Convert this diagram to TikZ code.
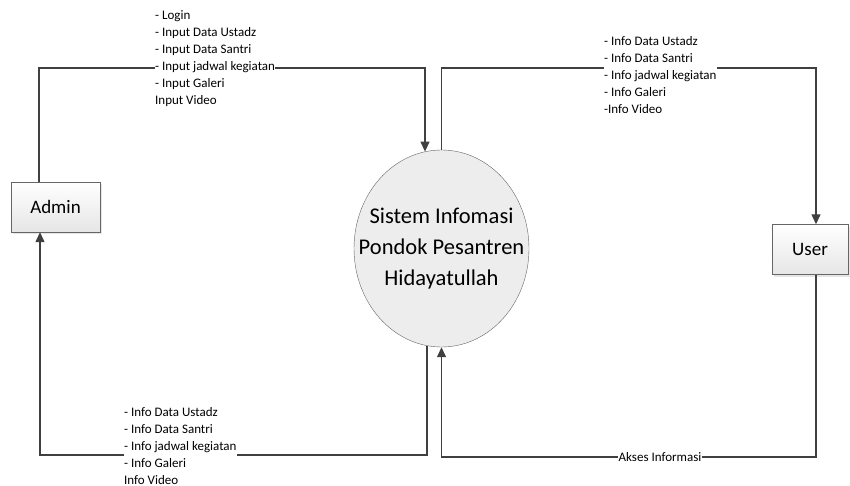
\documentclass[tikz,border=0pt]{standalone}
\usepackage{fontspec}
\setmainfont{Carlito}
\usetikzlibrary{shapes.geometric, arrows.meta, positioning, shadows}
\definecolor{lineGray}{RGB}{64,64,64}
\definecolor{boxGray}{RGB}{230,230,230}

\begin{document}
\begin{tikzpicture}[
    x=1pt, y=-1pt,
    entity/.style={rectangle, draw=lineGray!80, top color=white, bottom color=boxGray, minimum width=89pt, minimum height=50pt, font=\fontsize{19}{23}\selectfont, drop shadow={shadow xshift=2pt, shadow yshift=-2pt, fill=black!20}},
    process/.style={ellipse, draw=lineGray!80, fill=boxGray!70, minimum width=175pt, minimum height=197pt, inner sep=0pt},
    flow/.style={-{Triangle[length=10pt, width=9pt]}, line width=1.3pt, draw=lineGray},
    note/.style={fill=white, inner sep=0pt, align=left, font=\fontsize{13}{17}\selectfont}
]
\useasboundingbox (0,0) rectangle (850,486);

% External entities
\node[entity] (admin) at (55.5,207) {Admin};
\node[entity, minimum width=76pt] (user) at (810,249.5) {User};

% Process
\node[process, label={[align=center, font=\fontsize{22.5}{31}\selectfont]center:{Sistem Infomasi\\Pondok Pesantren\\Hidayatullah}}] (sis) at (441.5,248.5) {};

% Bend points
\coordinate (adminUp) at (39,68);
\coordinate (userUp) at (816,68);
\coordinate (adminDown) at (40,455);
\coordinate (userDown) at (816,457);

% Flows
\draw[flow] (admin.north -| adminUp) -- (adminUp) -| ([xshift=-16.5pt, yshift=-1.8pt]sis.north);
\draw[flow] (sis.north) |- (userUp) -- (user.north -| userUp);
\draw[flow] ([xshift=-14.5pt, yshift=1.4pt]sis.south) |- (adminDown) -- (admin.south -| adminDown);
\draw[flow] (user.south -| userDown) -- (userDown) -| (sis.south);

% Labels
\node[note, anchor=north west] (inAdmin) at (155,10.5) {- Login\\- Input Data Ustadz\\- Input Data Santri\\- Input jadwal kegiatan\\- Input Galeri\\Input Video};
\node[note, anchor=north west] (outUser) at (604,36) {- Info Data Ustadz\\- Info Data Santri\\- Info jadwal kegiatan\\- Info Galeri\\-Info Video};
\node[note, anchor=north west] (outAdmin) at (124,407) {- Info Data Ustadz\\- Info Data Santri\\- Info jadwal kegiatan\\- Info Galeri\\Info Video};
\node[note, inner xsep=1pt] (akses) at (660,457) {Akses Informasi};

\end{tikzpicture}
\end{document}
